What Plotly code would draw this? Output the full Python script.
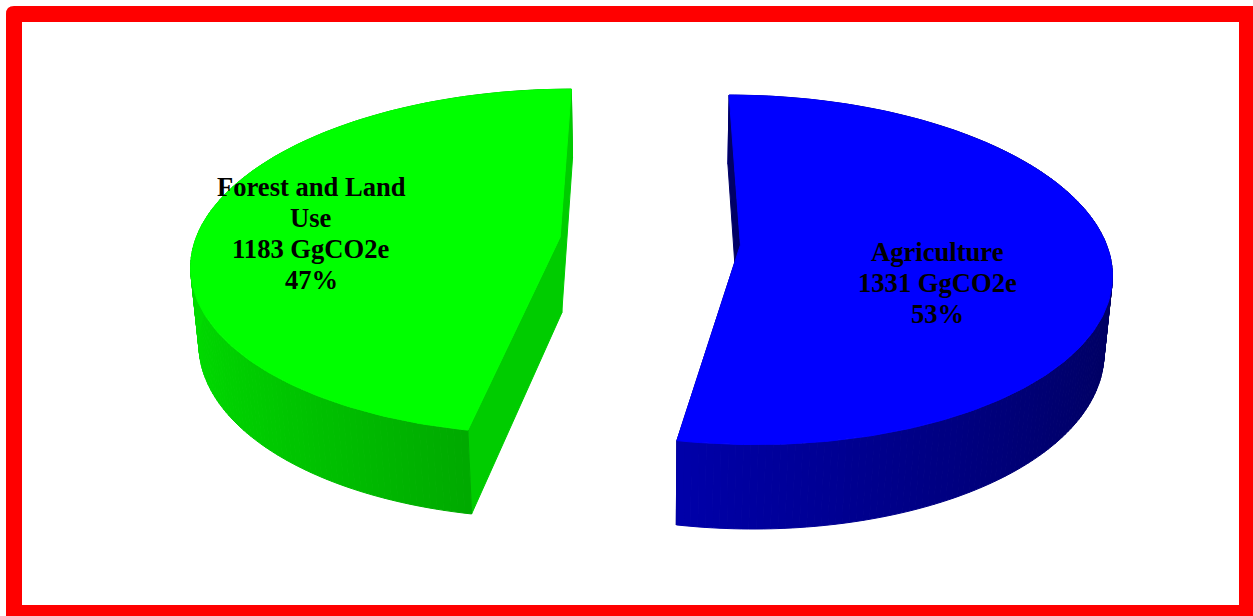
import math
import textwrap

import numpy as np
import plotly.graph_objects as go

# ---- data -------------------------------------------------------------
categories = ["Agriculture", "Forest and Land Use"]
emissions = [1331, 1183]          # GgCO2e
unit = "GgCO2e"
slice_colors = [(0, 0, 255), (0, 255, 0)]

# ---- 3D pie geometry (camera + pie body) -------------------------------
W, H = 1253, 616
CX, CY = 650.0, 241.0             # screen position of the pie centre
DIST = 6.22                       # camera distance, in pie radii
ELEV = math.asin(0.466)           # camera elevation
FOCAL = 2270.0
EXPLODE = 0.248                   # slice pull-out, in pie radii
THICK = 0.2394                    # pie thickness, in pie radii
START = 90.0                      # first slice starts at 12 o'clock, clockwise
CUT_SHADE = [0.40, 0.80]          # shade of the radial cut faces per slice

# label anchors: (radius fraction, angle in degrees) from each slice's apex
LABEL_SPOT = [(0.557, -22.7), (0.688, 178.0)]
LABEL_FONT = 26.6
LINE_GAP = 31


def project(X, Y, Z):
    X, Y, Z = np.asarray(X, float), np.asarray(Y, float), np.asarray(Z, float)
    c, s = math.cos(ELEV), math.sin(ELEV)
    w = DIST + Y * c - Z * s
    v = Y * s + Z * c
    return CX + FOCAL * X / w, CY - FOCAL * v / w


def rgb(col, k=1.0):
    r, g, b = (int(round(min(255, ch * k))) for ch in col)
    return f"rgb({r},{g},{b})"


def wall_shade(phi_deg):
    return 0.62 + 0.24 * (-math.cos(math.radians(phi_deg)))


def poly(xs, ys, color):
    xs = list(xs) + [xs[0]]
    ys = list(ys) + [ys[0]]
    return go.Scatter(
        x=xs, y=ys, mode="lines", fill="toself", fillcolor=color,
        line=dict(color=color, width=1), hoverinfo="skip", showlegend=False,
    )


fig = go.Figure()
annotations = []

total = float(sum(emissions))
angle = START
for i, (name, val) in enumerate(zip(categories, emissions)):
    col = slice_colors[i]
    sweep = 360.0 * val / total
    a1, a2 = angle, angle - sweep
    angle = a2
    mid = math.radians((a1 + a2) / 2)
    ox, oy = EXPLODE * math.cos(mid), EXPLODE * math.sin(mid)

    n = int(math.ceil(sweep)) + 1
    phis = np.linspace(a1, a2, n)
    rx = ox + np.cos(np.radians(phis))
    ry = oy + np.sin(np.radians(phis))
    tx, ty = project(rx, ry, 0.0)
    bx, by = project(rx, ry, -THICK)

    back, front = [], []
    for j in range(n - 1):
        pm = (phis[j] + phis[j + 1]) / 2
        tr = poly([tx[j], tx[j + 1], bx[j + 1], bx[j]],
                  [ty[j], ty[j + 1], by[j + 1], by[j]],
                  rgb(col, wall_shade(pm)))
        (back if math.sin(math.radians(pm)) > 0 else front).append(tr)

    # radial cut faces
    cuts = []
    for a in (a1, a2):
        ex = ox + math.cos(math.radians(a))
        ey = oy + math.sin(math.radians(a))
        px, py = project([ox, ex, ex, ox], [oy, ey, ey, oy],
                         [0.0, 0.0, -THICK, -THICK])
        cuts.append(poly(px, py, rgb(col, CUT_SHADE[i])))

    ax, ay = project(ox, oy, 0.0)
    top = poly([float(ax)] + list(tx), [float(ay)] + list(ty), rgb(col))

    for tr in back + cuts + front + [top]:
        fig.add_trace(tr)

    # data label
    lr, la = LABEL_SPOT[i]
    lx, ly = project(ox + lr * math.cos(math.radians(la)),
                     oy + lr * math.sin(math.radians(la)), 0.0)
    lines = textwrap.wrap(name, 15) + [f"{val} {unit}",
                                       f"{round(100 * val / total)}%"]
    for k, line in enumerate(lines):
        annotations.append(dict(
            x=float(lx), y=float(ly), xref="x", yref="y",
            text=f"<b>{line}</b>", showarrow=False,
            xanchor="center", yanchor="middle",
            yshift=-(k - (len(lines) - 1) / 2) * LINE_GAP,
            font=dict(family="Liberation Serif, Times New Roman, serif",
                      size=LABEL_FONT, color="black"),
        ))

# red frame around the chart area
R = 8
frame = [
    dict(type="path", xref="x", yref="y", layer="below",
         path=(f"M {6 + R},6 L {W + 20},6 L {W + 20},{H + 20} "
               f"L 6,{H + 20} L 6,{6 + R} Q 6,6 {6 + R},6 Z"),
         fillcolor="#FF0000", line=dict(width=0)),
    dict(type="rect", xref="x", yref="y", layer="below",
         x0=22, y0=22, x1=1239, y1=605,
         fillcolor="white", line=dict(width=0)),
]

fig.update_layout(
    width=W, height=H, autosize=False,
    margin=dict(l=0, r=0, t=0, b=0, pad=0),
    paper_bgcolor="white", plot_bgcolor="white",
    xaxis=dict(range=[0, W], visible=False, fixedrange=True),
    yaxis=dict(range=[H, 0], visible=False, fixedrange=True),
    shapes=frame,
    annotations=annotations,
    showlegend=False,
)

fig.write_html("out.html", config={"displayModeBar": False})
